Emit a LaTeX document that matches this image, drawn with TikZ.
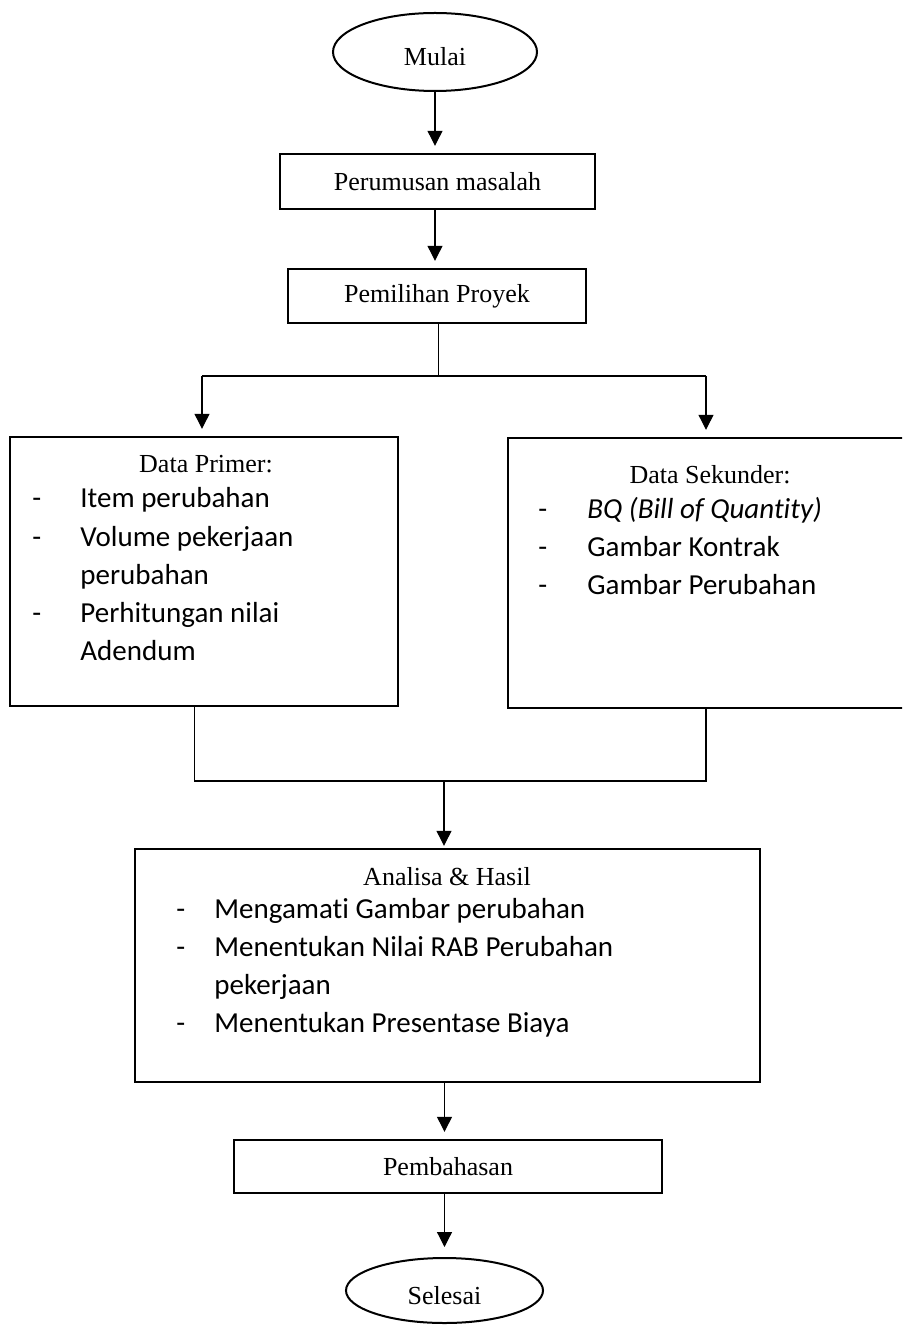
\documentclass[tikz,border=0pt]{standalone}
\usepackage{fontspec}
\setmainfont{Liberation Serif}
\newfontfamily\calibri[Ligatures=NoCommon]{Carlito}
\usetikzlibrary{arrows.meta,shapes.geometric}

\tikzset{
  kotak/.style={draw, rectangle, line width=1.2pt, inner sep=0pt, font=\fontsize{13}{15}\selectfont},
  oval/.style={draw, ellipse, line width=1pt, inner sep=0pt, text height=13.9pt, text depth=0pt, font=\fontsize{13}{15}\selectfont},
  garis/.style={line width=0.6pt},
  panah/.style={garis, -{Triangle[length=7.5pt,width=7.5pt]}, shorten >=3.5pt},
  judul/.style={anchor=base, inner sep=0pt, font=\fontsize{13}{15}\selectfont},
  butir/.style={anchor=base west, inner sep=0pt, font=\calibri\fontsize{14.5}{17}\selectfont},
}

\begin{document}
\begin{tikzpicture}[x=0.5pt,y=-0.5pt]
	\useasboundingbox (0,0) rectangle (902,1325);
	\fill[white] (0,0) rectangle (902,1325);
	\clip (0,0) rectangle (902,1325);

	% alur utama
	\node[oval, minimum width=102pt, minimum height=39pt] (mulai) at (435,52) {Mulai};
	\node[kotak, minimum width=157.5pt, minimum height=27.5pt] (rumusan) at (437.5,181.5) {Perumusan masalah};
	\node[kotak, minimum width=149pt, minimum height=27pt] (pilih) at (437,296) {Pemilihan Proyek};
	\node[kotak, minimum width=194pt, minimum height=134.5pt] (primer) at (204,571.5) {};
	\node[kotak, minimum width=203.5pt, minimum height=135pt] (sekunder) at (711.5,573) {};
	\node[kotak, minimum width=312.5pt, minimum height=116.5pt] (analisa) at (447.5,965.5) {};
	\node[kotak, minimum width=214pt, minimum height=26.5pt] (bahas) at (448,1166.5) {Pembahasan};
	\node[oval, minimum width=98.5pt, minimum height=32.5pt] (selesai) at (444.5,1290.5) {Selesai};

	% isi data primer
	\node[judul] (primer-judul) at (206,473) {Data Primer:};
	\foreach \y/\teks [count=\i] in {508/Item perubahan, 546/Volume pekerjaan, 584/perubahan, 622/Perhitungan nilai, 660/Adendum}
		\node[butir] (primer-\i) at (80,\y) {\teks};
	\foreach \y [count=\i] in {508,546,622}
		\node[butir] (primer-s\i) at (32,\y) {-};

	% isi data sekunder
	\node[judul] (sekunder-judul) at (710,483) {Data Sekunder:};
	\foreach \y/\teks [count=\i] in {518/{\itshape BQ (Bill of Quantity)}, 556/Gambar Kontrak, 594/Gambar Perubahan} {
		\node[butir] (sekunder-\i) at (587,\y) {\teks};
		\node[butir] (sekunder-s\i) at (538,\y) {-};
	}

	% isi analisa
	\node[judul] (analisa-judul) at (447,885) {Analisa \& Hasil};
	\foreach \y/\teks [count=\i] in {918/Mengamati Gambar perubahan, 956/Menentukan Nilai RAB Perubahan, 994/pekerjaan, 1032/Menentukan Presentase Biaya}
		\node[butir] (analisa-\i) at (214,\y) {\teks};
	\foreach \y [count=\i] in {918,956,1032}
		\node[butir] (analisa-s\i) at (176,\y) {-};

	% percabangan
	\coordinate (cabang) at (438.5,376);
	\coordinate (cabangkiri) at (202,376);
	\coordinate (cabangkanan) at (706,376);
	\coordinate (gabungkiri) at (194.5,781);
	\coordinate (gabungkanan) at (706,781);
	\coordinate (gabung) at (444,781);

	\draw[panah] (mulai) -- (mulai |- rumusan.north);
	\draw[panah] (rumusan.south -| mulai) -- (pilih.north -| mulai);
	\draw[garis] (pilih.south -| cabang) -- (cabang);
	\draw[garis] (cabangkiri) -- (cabangkanan);
	\draw[panah] (cabangkiri) -- (cabangkiri |- primer.north);
	\draw[panah] (cabangkanan) -- (cabangkanan |- sekunder.north);
	\draw[garis] (primer.south -| gabungkiri) -- (gabungkiri) -- (gabungkanan) -- (sekunder.south -| gabungkanan);
	\draw[panah, shorten >=1pt] (gabung) -- (gabung |- analisa.north);
	\draw[panah] (analisa.south -| selesai) -- (bahas.north -| selesai);
	\draw[panah, shorten >=5pt] (bahas.south -| selesai) -- (selesai);
\end{tikzpicture}
\end{document}
